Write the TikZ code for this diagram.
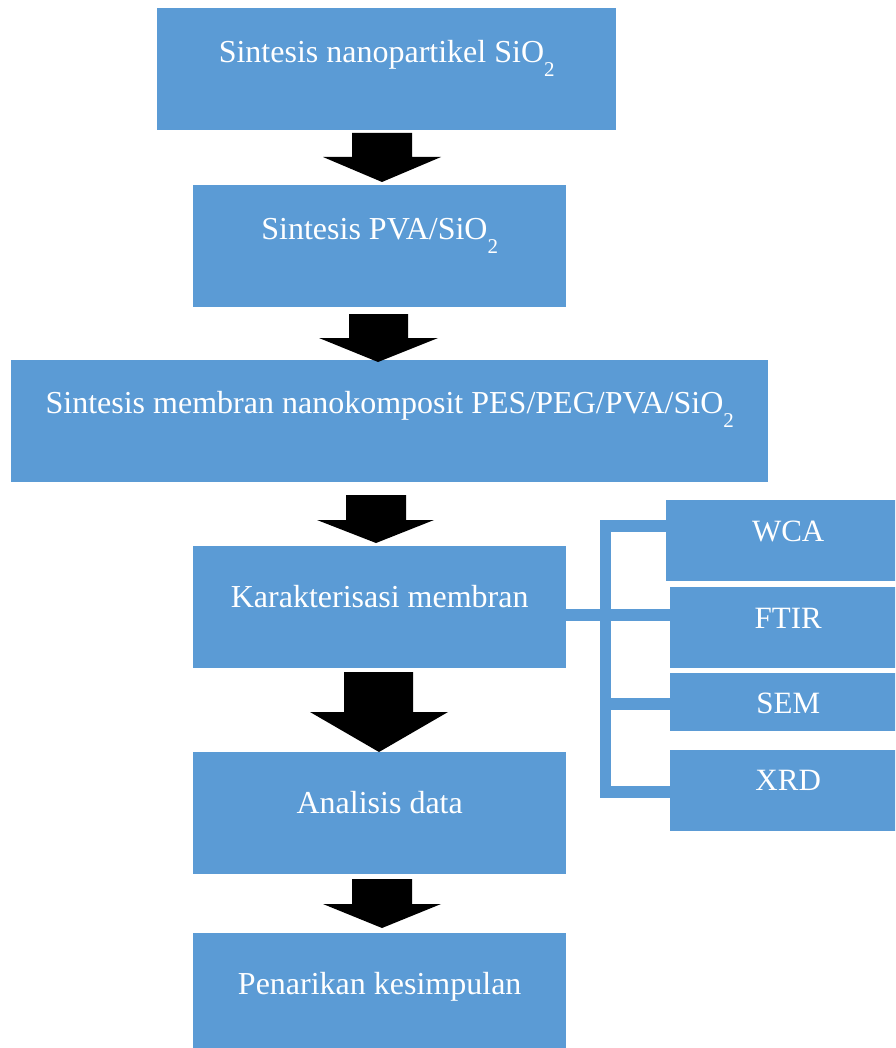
\documentclass[tikz,border=0pt]{standalone}
\usepackage{fontspec}
\setmainfont{Liberation Serif}
\definecolor{boxblue}{HTML}{5B9BD5}
\newcommand\subtwo{\raisebox{-14pt}{\fontsize{21}{21}\selectfont 2}}
\newcommand\barrow[8]{% cx-left shaft, shaft-right, top, heady, head-left, head-right, tipx, tipy
  \fill[black] (#1,-#3) -- (#2,-#3) -- (#2,-#4) -- (#6,-#4) -- (#7,-#8) -- (#5,-#4) -- (#1,-#4) -- cycle;}
\begin{document}
\begin{tikzpicture}[x=1pt,y=1pt,
  box/.style={fill=boxblue, draw=none, inner sep=0pt, text=white,
    font=\fontsize{32}{38}\selectfont, align=center, anchor=north west},
  sbox/.style={box, font=\fontsize{31}{36}\selectfont},
  conn/.style={draw=boxblue, line width=11.5pt, line join=miter}]
\clip (0,0) rectangle (895,-1048);
\fill[white] (0,0) rectangle (895,-1048);
% main boxes
\node[box, minimum width=459pt, text height=54pt, text depth=68pt] (b1) at (157,-8) {Sintesis nanopartikel SiO\subtwo};
\node[box, minimum width=373pt, text height=54pt, text depth=68pt] (b2) at (193,-185) {Sintesis PVA/SiO\subtwo};
\node[box, minimum width=757pt, text height=53pt, text depth=69pt] (b3) at (11,-360) {Sintesis membran nanokomposit PES/PEG/PVA/SiO\subtwo};
\node[box, minimum width=373pt, text height=61pt, text depth=61pt] (b4) at (193,-546) {Karakterisasi membran};
\node[box, minimum width=373pt, text height=61pt, text depth=61pt] (b5) at (193,-752) {Analisis data};
\node[box, minimum width=373pt, text height=61pt, text depth=61pt] (b6) at (193,-933) {Penarikan kesimpulan};
% side boxes
\node[sbox, minimum width=244pt, text height=41pt, text depth=40pt] (wca) at (666,-500) {WCA};
\node[sbox, minimum width=236pt, text height=41pt, text depth=40pt] (ftir) at (670,-587) {FTIR};
\node[sbox, minimum width=236pt, text height=40pt, text depth=18pt] (sem) at (670,-673) {SEM};
\node[sbox, minimum width=236pt, text height=40pt, text depth=41pt] (xrd) at (670,-750) {XRD};
% block arrows
\barrow{352}{412}{133}{157}{323}{441}{382}{182}
\barrow{349}{408}{314}{338}{319}{438}{378}{362}
\barrow{346}{406}{495}{520}{317}{434}{376}{543}
\barrow{344}{413}{672}{712}{310}{448}{379}{752}
\barrow{352}{412}{879}{904}{323}{441}{382}{928}
% connectors
\coordinate (bt) at (605.5,-526);
\coordinate (bb) at (605.5,-792);
\coordinate (bm) at (605.5,-615);
\coordinate (bs) at (605.5,-704);
\draw[conn] (wca.west |- bt) -- (bt) -- (bb) -- (xrd.west |- bb);
\draw[conn] (b4.east |- bm) -- (ftir.west |- bm);
\draw[conn] (bs) -- (sem.west |- bs);
\end{tikzpicture}
\end{document}
